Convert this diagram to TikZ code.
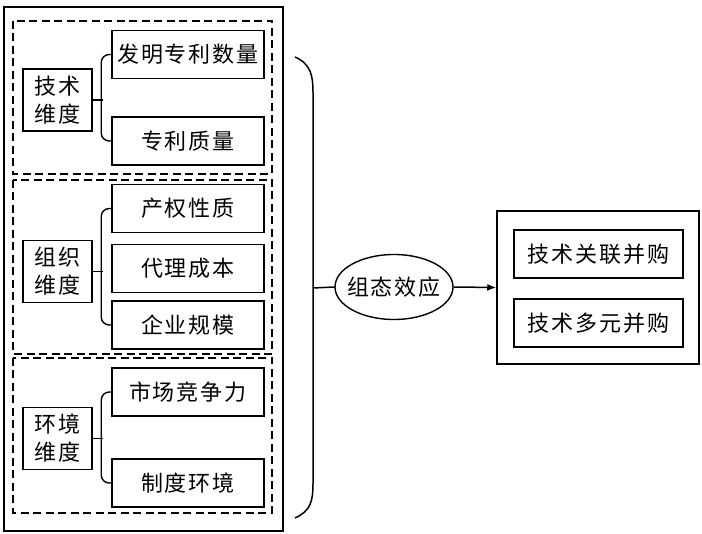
\documentclass[tikz,border=0pt]{standalone}
\usepackage{fontspec}
\setmainfont{Noto Sans CJK SC}[LetterSpace=9]
\usepackage{tikz}
\usetikzlibrary{shapes.geometric,arrows.meta}
\tikzset{
  item/.style={draw, line width=1.5pt, minimum width=152, minimum height=48, inner sep=0pt},
  dim/.style={draw, line width=1.5pt, minimum width=69, minimum height=62, inner sep=0pt, align=center},
  group/.style={line width=1.5pt, dash pattern=on 8pt off 4.5pt},
  link/.style={line width=1.4pt, rounded corners=8pt},
  result/.style={draw, line width=1.5pt, minimum width=169, minimum height=48, inner sep=0pt}
}

\begin{document}
\begin{tikzpicture}[x=1pt, y=-1pt, font=\fontsize{22}{28}\selectfont]
			%%%%% START %%%%%
			\useasboundingbox (0, 0) rectangle (702, 534);
			
			\draw[line width=1.4pt] (4, 7) rectangle (283, 531);
			
			\draw[group] (13, 21) rectangle (272, 174);
			\draw[group] (13, 180) rectangle (272, 354);
			\draw[group] (13, 358) rectangle (272, 513);
			
			\node[dim] (jishu) at (57.5, 100) {技术\\维度};
			\node[item] (famin) at (188, 54.5) {发明专利数量};
			\node[item] (zhiliang) at (188, 141) {专利质量};
			
			\node[dim] (zuzhi) at (57.5, 271.5) {组织\\维度};
			\node[item] (chanquan) at (188, 208.5) {产权性质};
			\node[item] (daili) at (188, 268.5) {代理成本};
			\node[item] (guimo) at (188, 325) {企业规模};
			
			\node[dim] (huanjing) at (57.5, 438.5) {环境\\维度};
			\node[item] (shichang) at (188, 392) {市场竞争力};
			\node[item] (zhidu) at (188, 483) {制度环境};
			
			\draw[link] (famin.west) -- ++(-10, 0) |- (zhiliang.west);
			\draw[line width=1.4pt] (jishu.east) -- ++(10, 0);
			\draw[link] (chanquan.west) -- ++(-10, 0) |- (guimo.west);
			\draw[line width=1.4pt] (zuzhi.east) -- ++(10, 0);
			\draw[link] (shichang.west) -- ++(-10, 0) |- (zhidu.west);
			\draw[line width=1.4pt] (huanjing.east) -- ++(10, 0);
			
			\coordinate (btop) at (295, 57);
			\coordinate (bbot) at (295, 518);
			\coordinate (bmid) at (313, 288);
			\draw[line width=1.5pt] (btop) .. controls (311, 64) and (313, 76) .. (313, 92)
				-- (313, 484) .. controls (313, 500) and (311, 511) .. (bbot);
			
			\node[draw, ellipse, line width=1.4pt, minimum width=118, minimum height=65,
				inner xsep=-9pt] (effect) at (394, 287) {组态效应};
			\draw[line width=1.5pt] (bmid) -- (effect.west);
			
			\node[draw, line width=1.5pt, minimum width=202, minimum height=153] (merge) at (598, 287.5) {};
			\node[result] (guanlian) at (598.5, 254) {技术关联并购};
			\node[result] (duoyuan) at (598.5, 323) {技术多元并购};
			
			\draw[line width=1.5pt, -{Latex[length=9pt, width=7pt]}] (effect.east) -- (merge.west);
			
			%%%%% END %%%%%
\end{tikzpicture}
\end{document}
